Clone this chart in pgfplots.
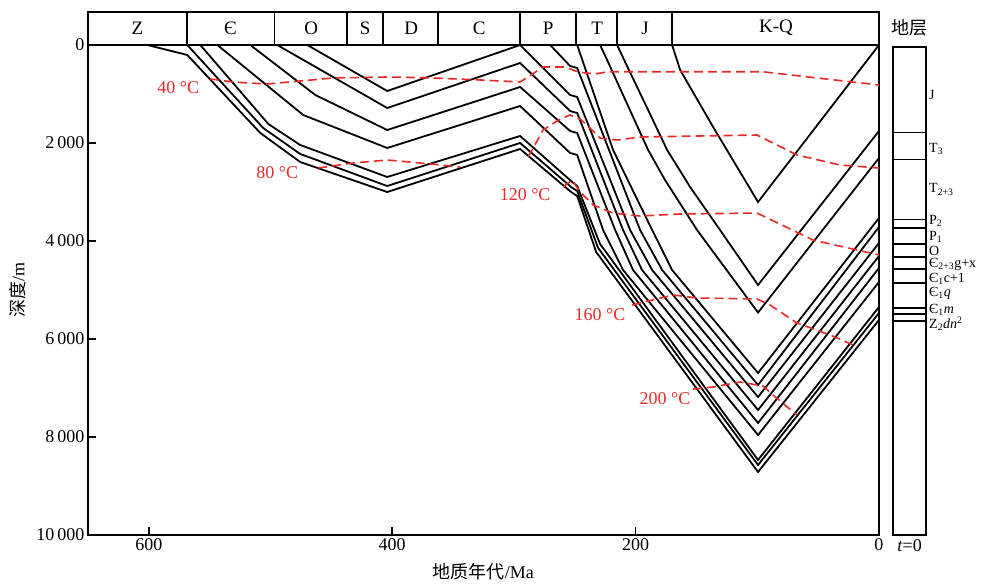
\documentclass[border=0pt]{standalone}
\usepackage{fontspec}
\setmainfont{Liberation Serif}
\newfontfamily\cjk{Noto Sans CJK SC}
\usepackage{pgfplots}
\pgfplotsset{compat=1.18}
\definecolor{iso}{RGB}{235,40,40}

\begin{document}
\begin{tikzpicture}
\useasboundingbox (-88pt,-50pt) rectangle (895pt,535pt);
\begin{axis}[
  name=main, at={(0pt,0pt)}, anchor=south west,
  scale only axis, width=791pt, height=490pt,
  x dir=reverse, y dir=reverse,
  xmin=0, xmax=650, ymin=0, ymax=10000,
  xtick={0,200,400,600}, ytick={0,2000,4000,6000,8000,10000},
  scaled y ticks=false,
  xtick pos=bottom, ytick pos=left, tick align=inside,
  major tick length=8pt,
  axis line style={line width=1.6pt},
  every tick/.style={line width=1.6pt, black},
  /pgf/number format/assume math mode=true,
  /pgf/number format/1000 sep={\,},
  tick label style={font=\fontsize{18}{20}\selectfont},
  xlabel={{\cjk 地质年代}/Ma},
  ylabel={{\cjk 深度}/m},
  xlabel style={font=\fontsize{18}{20}\selectfont, at={(axis description cs:0.5,-0.075)}, anchor=center},
  ylabel style={font=\fontsize{18}{20}\selectfont, at={(axis description cs:-0.089,0.5)}, anchor=center},
  clip=false,
  every axis plot/.append style={line width=1.8pt, no marks},
]
% burial curves, youngest (top) to oldest (bottom)
\addplot[black] coordinates {(170,0) (163.4,510) (136.3,1673) (99.4,3204) (0,0)};
\addplot[black] coordinates {(215.2,0) (209.4,306) (189.7,1327) (174.1,2143) (155.2,2898) (130.6,3776) (99.4,4898) (0,1755)};
\addplot[black] coordinates {(229.2,0) (223.4,306) (189.7,2143) (175.8,2755) (149.5,3776) (99.4,5460) (0,2306)};
\addplot[black] coordinates {(248,0) (218.5,2143) (186.4,3776) (170,4592) (99.4,6694) (0,3531)};
\addplot[black] coordinates {(270.2,0) (253.8,429) (248,469) (196.3,3776) (178.2,4592) (99.4,6939) (0,3714)};
\addplot[black] coordinates {(469.8,0) (404.1,939) (294.9,0) (253.8,1020) (248,1061) (204.5,3776) (186.4,4592) (99.4,7184) (0,4041)};
\addplot[black] coordinates {(494.5,0) (404.1,1286) (294.9,367) (253.8,1347) (248,1388) (210.3,3776) (194.7,4592) (99.4,7449) (0,4306)};
\addplot[black] coordinates {(516.6,0) (463.2,1020) (404.1,1735) (294.9,857) (253.8,1755) (248,1796) (216.8,3776) (202.1,4592) (99.4,7714) (0,4551)};
\addplot[black] coordinates {(543.7,0) (473.1,1429) (404.1,2102) (294.9,1245) (253.8,2204) (248,2245) (226.7,3776) (210.3,4592) (99.4,7959) (0,4837)};
\addplot[black] coordinates {(557.7,0) (501.8,1612) (475.6,2041) (404.1,2694) (294.9,1857) (253,2776) (248,2878) (229.2,4061) (99.4,8469) (0,5347)};
\addplot[black] coordinates {(568.4,0) (506,1694) (475.6,2224) (404.1,2878) (294.9,2000) (253,2898) (248,2980) (230.8,4143) (99.4,8571) (0,5469)};
\addplot[black] coordinates {(601.2,0) (568.4,204) (508.4,1796) (475.6,2388) (404.1,3000) (294.9,2122) (253,3000) (248,3082) (232.4,4224) (99.4,8714) (0,5612)};

% isotherms
\pgfplotsset{isoline/.style={iso, line width=1.6pt, dash pattern=on 9pt off 5pt}}
\addplot[isoline] coordinates {(549.5,694) (530.6,755) (502.7,796) (475.6,735) (448.5,673) (404.1,653) (366.3,673) (327.7,714) (294.9,755) (276,449) (257.9,449) (247.2,551) (233.3,592) (222.6,545) (96.1,545) (0,816)};
\addplot[isoline] coordinates {(460.8,2510) (432,2408) (404.1,2347) (377,2408) (344,2490)};
\addplot[isoline] coordinates {(288.3,2286) (276,1735) (262,1510) (253.8,1429) (245.6,1510) (237.4,1694) (229.2,1898) (214.8,1939) (196.3,1878) (100.2,1837) (67.4,2245) (32,2449) (0,2510)};
\addplot[isoline] coordinates {(259.5,2898) (252.2,2755) (245.6,3000) (234.9,3265) (218.5,3429) (196.3,3490) (163.4,3449) (100.2,3429) (54.2,3980) (0,4286)};
\addplot[isoline] coordinates {(202.9,5306) (169.2,5102) (149.5,5163) (100.2,5184) (89.5,5306) (67.4,5673) (40.2,5918) (21.4,6122)};
\addplot[isoline] coordinates {(152.8,7020) (136.3,6980) (114.2,6878) (95.3,6959) (87.1,7143) (67.4,7551)};

\begin{scope}[font=\fontsize{18}{20}\selectfont, text=iso]
\node at (axis cs:575.8,878) {40 °C};
\node at (axis cs:494.5,2612) {80 °C};
\node at (axis cs:290.8,3061) {120 °C};
\node at (axis cs:229.2,5510) {160 °C};
\node at (axis cs:175.8,7224) {200 °C};
\end{scope}

% geological period band
\draw[line width=1.6pt] (axis cs:650,-673) rectangle (axis cs:0,0);
\pgfplotsinvokeforeach{568.4,496.9,437,407.4,362.2,294.9,248.9,215.2,170}{
  \draw[line width=1.6pt] (axis cs:#1,-673) -- (axis cs:#1,0);
}
\begin{scope}[font=\fontsize{19}{21}\selectfont]
\node at (axis cs:609.4,-347) {Z};
\node at (axis cs:533,-347) {Є};
\node at (axis cs:466.5,-347) {O};
\node at (axis cs:422.2,-347) {S};
\node at (axis cs:384.4,-347) {D};
\node at (axis cs:328.5,-347) {C};
\node at (axis cs:271.9,-347) {P};
\node at (axis cs:231.6,-347) {T};
\node at (axis cs:192.2,-347) {J};
\node at (axis cs:84.6,-347) {K-Q};
\end{scope}
\end{axis}

% stratigraphic column at t=0
\begin{axis}[
  at={(805pt,0pt)}, anchor=south west,
  scale only axis, width=33pt, height=488pt,
  xmin=0, xmax=1, ymin=0, ymax=10000, y dir=reverse,
  ticks=none, axis line style={line width=1.6pt},
  clip=false,
]
\addplot[xcomb, black, line width=1.5pt, no marks] coordinates {(1,1755) (1,2306) (1,3531) (1,3714) (1,4041) (1,4306) (1,4551) (1,4837) (1,5347) (1,5469) (1,5612)};
\begin{scope}[font=\fontsize{14}{15}\selectfont, anchor=west, inner sep=0pt, xshift=3pt]
\node at (axis cs:1,980) {J};
\node at (axis cs:1,2082) {T\textsubscript{3}};
\node at (axis cs:1,2918) {T\textsubscript{2+3}};
\node at (axis cs:1,3571) {P\textsubscript{2}};
\node at (axis cs:1,3898) {P\textsubscript{1}};
\node at (axis cs:1,4175) {O};
\node at (axis cs:1,4460) {Є\textsubscript{2+3}g+x};
\node at (axis cs:1,4745) {Є\textsubscript{1}c+1};
\node at (axis cs:1,5041) {Є\textsubscript{1}\textit{q}};
\node at (axis cs:1,5388) {Є\textsubscript{1}\textit{m}};
\node at (axis cs:1,5673) {Z\textsubscript{2}\textit{dn}\textsuperscript{2}};
\end{scope}
\node[font=\fontsize{18}{20}\selectfont\cjk] at ([yshift=19pt]axis description cs:0.5,1) {地层};
\node[font=\fontsize{18}{20}\selectfont] at ([yshift=-11pt]axis description cs:0.5,0) {\textit{t}=0};
\end{axis}
\end{tikzpicture}
\end{document}
